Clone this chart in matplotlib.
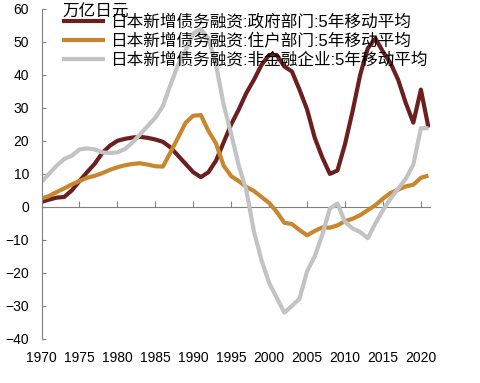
import matplotlib
matplotlib.use("Agg")
import matplotlib.pyplot as plt
import numpy as np

plt.rcParams['font.family'] = ['Liberation Sans', 'Noto Sans CJK SC', 'DejaVu Sans']

years = list(range(1970, 2022))

gov = [1.5, 2.2, 2.8, 3.0, 5.0, 7.8, 10.5, 13.0, 16.3, 18.5,
       20.0, 20.6, 21.0, 21.2, 20.9, 20.4, 19.7, 18.0, 15.5, 13.0,
       10.5, 9.0, 10.5, 14.0, 19.5, 25.0, 29.5, 34.5, 38.5, 43.0,
       46.0, 46.0, 42.5, 41.0, 35.5, 29.5, 21.0, 15.0, 10.0, 11.0,
       19.0, 29.0, 40.0, 48.0, 51.0, 47.0, 43.5, 38.5, 31.5, 25.5,
       35.5, 24.0]

household = [2.5, 3.3, 4.5, 5.6, 6.8, 7.8, 8.8, 9.4, 10.2, 11.2,
             12.0, 12.6, 13.0, 13.2, 12.8, 12.3, 12.2, 16.5, 21.0, 25.5,
             27.6, 27.8, 23.0, 19.2, 12.5, 9.3, 7.8, 6.0, 4.8, 3.0,
             1.2, -1.5, -4.8, -5.2, -7.0, -8.6, -7.3, -6.2, -6.3, -5.6,
             -4.3, -3.6, -2.5, -1.0, 0.5, 2.5, 4.2, 5.2, 6.2, 6.7,
             8.8, 9.5]

nonfin = [7.6, 10.0, 12.5, 14.5, 15.5, 17.4, 17.7, 17.4, 16.5, 16.3,
          16.5, 17.5, 19.5, 22.0, 24.5, 27.0, 30.5, 37.0, 43.0, 47.5,
          52.5, 53.8, 51.0, 43.0, 31.0, 22.0, 12.5, 5.0, -7.5, -16.2,
          -23.0, -27.5, -32.0, -30.0, -27.8, -19.5, -15.0, -8.5, -0.5, 1.0,
          -4.5, -6.5, -7.6, -9.5, -5.0, -1.0, 2.5, 5.5, 8.5, 12.8,
          23.8, 23.8]

labels = ['日本新增债务融资:政府部门:5年移动平均',
          '日本新增债务融资:住户部门:5年移动平均',
          '日本新增债务融资:非金融企业:5年移动平均']
colors = ['#6b1f1f', '#c8862e', '#c3c3c3']

xticks = list(range(1970, 2021, 5))
yticks = list(range(-40, 61, 10))
unit = '万亿日元'


def main():
    fig = plt.figure(figsize=(4.8, 3.83), dpi=100)
    ax = fig.add_axes([41.5/480, 44/383, (430-41.5)/480, (339-8.7)/383])

    for vals, lab, col in zip([gov, household, nonfin], labels, colors):
        ax.plot(years, vals, color=col, lw=3, label=lab, solid_capstyle='butt')

    ax.set_xlim(1970, 2021.2)
    ax.set_ylim(-40, 60)
    ax.set_yticks(yticks)
    ax.set_yticklabels([str(v).replace('-', '\u2212') for v in yticks])
    ax.set_xticks(xticks)
    ax.set_xticklabels([str(v) for v in xticks])

    for s in ['top', 'right', 'bottom']:
        ax.spines[s].set_visible(False)
    ax.spines['left'].set_color('#808080')
    ax.tick_params(axis='y', direction='in', length=3, color='#808080',
                   labelsize=10, pad=9)
    ax.tick_params(axis='x', length=0, labelsize=10, pad=9)

    # zero line with the ticks on it
    zax = ax.secondary_xaxis(0.4)
    zax.set_xticks(xticks)
    zax.tick_params(direction='in', length=4, color='#808080', labelbottom=False)
    zax.spines['bottom'].set_color('#808080')

    fig.text(62/480, 1 - 12/383, unit, fontsize=12, va='center', ha='left')
    fig.legend(loc='upper left', bbox_to_anchor=(62/480, 1 - 14/383),
               frameon=False, fontsize=12, borderpad=0, borderaxespad=0,
               handlelength=2.6, handletextpad=0.3, labelspacing=0.2)

    fig.savefig('out.png', dpi=100)


if __name__ == "__main__":
    main()
